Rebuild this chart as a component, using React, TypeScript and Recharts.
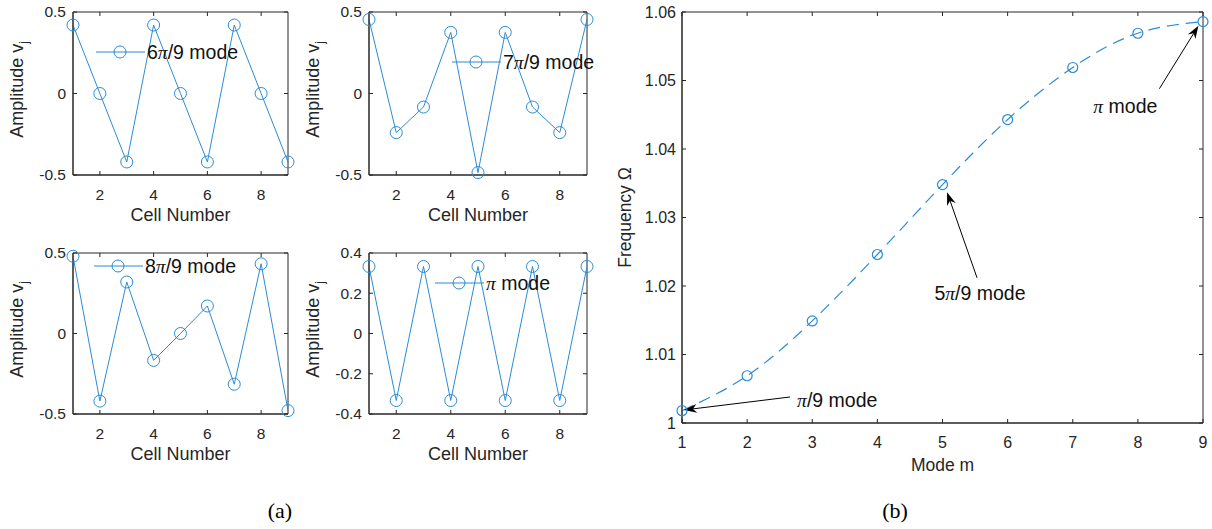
import {
  Legend,
  Line,
  LineChart,
  ReferenceArea,
  ReferenceLine,
  XAxis,
  YAxis,
} from "recharts";

// values
const CELLS = [1, 2, 3, 4, 5, 6, 7, 8, 9];
const MODE_6PI9 = [0.42, 0, -0.42, 0.42, 0, -0.42, 0.42, 0, -0.42];
const MODE_7PI9 = [0.454, -0.24, -0.083, 0.375, -0.485, 0.375, -0.083, -0.24, 0.454];
const MODE_8PI9 = [0.48, -0.42, 0.32, -0.167, 0, 0.171, -0.315, 0.433, -0.479];
const MODE_PI = [0.333, -0.333, 0.333, -0.333, 0.333, -0.333, 0.333, -0.333, 0.333];

const MODES_M = [1, 2, 3, 4, 5, 6, 7, 8, 9];
const FREQ = [1.0018, 1.0069, 1.0149, 1.0246, 1.0348, 1.0443, 1.0519, 1.0569, 1.0586];

const CELL_TICKS = [2, 4, 6, 8];
const AMP_TICKS = [-0.5, 0, 0.5];
const AMP_TICKS_PI = [-0.4, -0.2, 0, 0.2, 0.4];
const FREQ_TICKS = [1, 1.01, 1.02, 1.03, 1.04, 1.05, 1.06];

const BLUE = "#2b8cd3";
const AXIS = "#262626";
const SANS = '"Liberation Sans", Arial, sans-serif';
const SERIF = '"Liberation Serif", "DejaVu Serif", serif';

// chart frame: YAxis gets 70px, XAxis 60px, 12px on top, 8px on right
const Y_W = 70;
const X_H = 60;
const M_TOP = 12;
const M_RIGHT = 8;

type Rect = { left: number; top: number; right: number; bottom: number };

function rows(xs: number[], ys: number[]) {
  return xs.map((x, i) => ({ x, v: ys[i] }));
}

function ModeText({ pre, post }: { pre: string; post: string }) {
  return (
    <>
      {pre}
      <span style={{ fontFamily: SERIF, fontStyle: "italic" }}>π</span>
      {post}
    </>
  );
}

function xTick(ph: number, fs: number, gap: number) {
  return (props: any) => {
    const { x, payload } = props;
    const bottom = M_TOP + ph;
    return (
      <g>
        <line x1={x} x2={x} y1={bottom} y2={bottom - 4} stroke={AXIS} />
        <line x1={x} x2={x} y1={M_TOP} y2={M_TOP + 4} stroke={AXIS} />
        <text x={x} y={bottom + gap} dy="0.35em" textAnchor="middle" fill={AXIS} fontSize={fs} fontFamily={SANS}>
          {payload.value}
        </text>
      </g>
    );
  };
}

function yTick(pw: number, fs: number, gap: number) {
  return (props: any) => {
    const { y, payload } = props;
    const right = Y_W + pw;
    return (
      <g>
        <line x1={Y_W} x2={Y_W + 4} y1={y} y2={y} stroke={AXIS} />
        <line x1={right} x2={right - 4} y1={y} y2={y} stroke={AXIS} />
        <text x={Y_W - gap} y={y} dy="0.35em" textAnchor="end" fill={AXIS} fontSize={fs} fontFamily={SANS}>
          {payload.value}
        </text>
      </g>
    );
  };
}

type SmallProps = {
  plot: Rect;
  values: number[];
  domain: [number, number];
  yTicks: number[];
  legendAt: [number, number]; // start of legend line, page coords
  pre: string;
  post: string;
};

function SmallPlot({ plot, values, domain, yTicks, legendAt, pre, post }: SmallProps) {
  const pw = plot.right - plot.left;
  const ph = plot.bottom - plot.top;
  const ox = plot.left - Y_W;
  const oy = plot.top - M_TOP;
  const data = rows(CELLS, values);
  return (
    <div style={{ position: "absolute", left: ox, top: oy }}>
      <LineChart
        width={pw + Y_W + M_RIGHT}
        height={ph + M_TOP + X_H}
        data={data}
        margin={{ top: M_TOP, right: M_RIGHT, left: 0, bottom: 0 }}
      >
        <XAxis
          dataKey="x"
          type="number"
          domain={[1, 9]}
          ticks={CELL_TICKS}
          height={X_H}
          stroke={AXIS}
          tickLine={false}
          tick={xTick(ph, 15.5, 20)}
          label={{
            content: () => (
              <text x={Y_W + pw / 2} y={M_TOP + ph + 40} dy="0.35em" textAnchor="middle" fill={AXIS} fontSize={18} fontFamily={SANS}>
                Cell Number
              </text>
            ),
          }}
        />
        <YAxis
          type="number"
          domain={domain}
          ticks={yTicks}
          width={Y_W}
          stroke={AXIS}
          tickLine={false}
          tick={yTick(pw, 15.5, 7)}
          label={{
            content: () => (
              <text
                transform={`translate(${Y_W - 56}, ${M_TOP + ph / 2 - 4}) rotate(-90)`}
                textAnchor="middle"
                dy="0.35em"
                fill={AXIS}
                fontSize={18}
                fontFamily={SANS}
              >
                Amplitude v
                <tspan fontSize={12} dy={5}>j</tspan>
              </text>
            ),
          }}
        />
        <ReferenceArea x1={1} x2={9} y1={domain[0]} y2={domain[1]} fill="none" stroke={AXIS} ifOverflow="visible" />
        <Legend
          layout="horizontal"
          verticalAlign="middle"
          align="center"
          wrapperStyle={{ position: "absolute", left: legendAt[0] - ox, top: legendAt[1] - oy - 12, width: "auto" }}
          content={() => (
            <div style={{ display: "flex", alignItems: "center", whiteSpace: "nowrap", height: 24 }}>
              <svg width={49} height={14}>
                <line x1={0} x2={49} y1={7} y2={7} stroke={BLUE} />
                <circle cx={24} cy={7} r={6} fill="none" stroke={BLUE} />
              </svg>
              <span style={{ marginLeft: 2, fontSize: 19.5, fontFamily: SANS, color: "#111" }}>
                <ModeText pre={pre} post={post} />
              </span>
            </div>
          )}
        />
        <Line
          dataKey="v"
          type="linear"
          stroke={BLUE}
          strokeWidth={1}
          dot={{ r: 6, fill: "none", stroke: BLUE, strokeWidth: 1 }}
          isAnimationActive={false}
        />
      </LineChart>
    </div>
  );
}

type Note = {
  from: [number, number];
  to: [number, number];
  pre: string;
  post: string;
  anchor: "start" | "middle";
  dx: number;
  dy: number;
};

// annotation arrows, in data units of the (b) panel
const NOTES: Note[] = [
  { from: [2.66, 1.0038], to: [1.03, 1.0019], pre: "", post: "/9 mode", anchor: "start", dx: 7, dy: 3 },
  { from: [5.53, 1.0212], to: [5.07, 1.0337], pre: "5", post: "/9 mode", anchor: "middle", dx: 3, dy: 15 },
  { from: [8.33, 1.0488], to: [8.93, 1.058], pre: "", post: " mode", anchor: "middle", dx: -34, dy: 17 },
];

function arrowShape(n: Note) {
  return (props: any) => {
    const { x1, y1, x2, y2 } = props;
    const len = Math.hypot(x2 - x1, y2 - y1) || 1;
    const ux = (x2 - x1) / len;
    const uy = (y2 - y1) / len;
    const nx = -uy;
    const ny = ux;
    const L = 13;
    const W = 4.5;
    const bx = x2 - ux * L;
    const by = y2 - uy * L;
    const kx = x2 - ux * (L - 4);
    const ky = y2 - uy * (L - 4);
    const pts = `${x2},${y2} ${bx + nx * W},${by + ny * W} ${kx},${ky} ${bx - nx * W},${by - ny * W}`;
    return (
      <g>
        <line x1={x1} y1={y1} x2={kx} y2={ky} stroke="#000" strokeWidth={1} />
        <polygon points={pts} fill="#000" />
        <text x={x1 + n.dx} y={y1 + n.dy} dy="0.35em" textAnchor={n.anchor} fontSize={19.5} fontFamily={SANS} fill="#111">
          {n.pre}
          <tspan fontFamily={SERIF} fontStyle="italic">π</tspan>
          {n.post}
        </text>
      </g>
    );
  };
}

function FreqPlot({ plot }: { plot: Rect }) {
  const pw = plot.right - plot.left;
  const ph = plot.bottom - plot.top;
  const data = rows(MODES_M, FREQ);
  return (
    <div style={{ position: "absolute", left: plot.left - Y_W, top: plot.top - M_TOP }}>
      <LineChart
        width={pw + Y_W + M_RIGHT}
        height={ph + M_TOP + X_H}
        data={data}
        margin={{ top: M_TOP, right: M_RIGHT, left: 0, bottom: 0 }}
      >
        <XAxis
          dataKey="x"
          type="number"
          domain={[1, 9]}
          ticks={MODES_M}
          height={X_H}
          stroke={AXIS}
          tickLine={false}
          tick={xTick(ph, 16, 19)}
          label={{
            content: () => (
              <text x={Y_W + pw / 2} y={M_TOP + ph + 42} dy="0.35em" textAnchor="middle" fill={AXIS} fontSize={17.5} fontFamily={SANS}>
                Mode m
              </text>
            ),
          }}
        />
        <YAxis
          type="number"
          domain={[1, 1.06]}
          ticks={FREQ_TICKS}
          width={Y_W}
          stroke={AXIS}
          tickLine={false}
          tick={yTick(pw, 16, 6)}
          label={{
            content: () => (
              <text
                transform={`translate(${Y_W - 57}, ${M_TOP + ph / 2}) rotate(-90)`}
                textAnchor="middle"
                dy="0.35em"
                fill={AXIS}
                fontSize={17.5}
                fontFamily={SANS}
              >
                Frequency Ω
              </text>
            ),
          }}
        />
        <ReferenceArea x1={1} x2={9} y1={1} y2={1.06} fill="none" stroke={AXIS} ifOverflow="visible" />
        <Line
          dataKey="v"
          type="natural"
          stroke={BLUE}
          strokeWidth={1.2}
          strokeDasharray="12 7"
          dot={{ r: 5, fill: "none", stroke: BLUE, strokeWidth: 1.2, strokeDasharray: "0" }}
          isAnimationActive={false}
        />
        {NOTES.map((n, i) => (
          <ReferenceLine
            key={i}
            segment={[
              { x: n.from[0], y: n.from[1] },
              { x: n.to[0], y: n.to[1] },
            ]}
            ifOverflow="visible"
            shape={arrowShape(n)}
          />
        ))}
      </LineChart>
    </div>
  );
}

export default function App() {
  return (
    <div
      style={{
        position: "absolute",
        left: 0,
        top: 0,
        width: 1212,
        height: 529,
        background: "#fff",
        fontFamily: SANS,
      }}
    >
      <SmallPlot
        plot={{ left: 73, top: 12, right: 288, bottom: 175 }}
        values={MODE_6PI9}
        domain={[-0.5, 0.5]}
        yTicks={AMP_TICKS}
        legendAt={[96, 52]}
        pre="6"
        post="/9 mode"
      />
      <SmallPlot
        plot={{ left: 369, top: 12, right: 587, bottom: 175 }}
        values={MODE_7PI9}
        domain={[-0.5, 0.5]}
        yTicks={AMP_TICKS}
        legendAt={[452, 62]}
        pre="7"
        post="/9 mode"
      />
      <SmallPlot
        plot={{ left: 73, top: 253, right: 288, bottom: 414 }}
        values={MODE_8PI9}
        domain={[-0.5, 0.5]}
        yTicks={AMP_TICKS}
        legendAt={[94, 266]}
        pre="8"
        post="/9 mode"
      />
      <SmallPlot
        plot={{ left: 369, top: 253, right: 587, bottom: 414 }}
        values={MODE_PI}
        domain={[-0.4, 0.4]}
        yTicks={AMP_TICKS_PI}
        legendAt={[435, 283]}
        pre=""
        post=" mode"
      />
      <FreqPlot plot={{ left: 682, top: 12, right: 1203, bottom: 423 }} />
      <div style={{ position: "absolute", left: 230, width: 100, top: 498, textAlign: "center", fontFamily: SERIF, fontSize: 22 }}>
        (a)
      </div>
      <div style={{ position: "absolute", left: 845, width: 100, top: 498, textAlign: "center", fontFamily: SERIF, fontSize: 22 }}>
        (b)
      </div>
    </div>
  );
}
